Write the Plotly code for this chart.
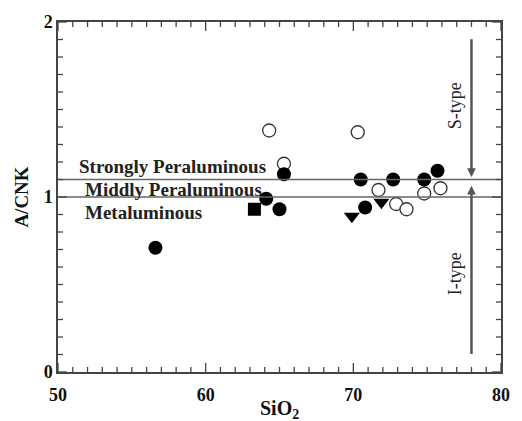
import plotly.graph_objects as go

# Data
filled_circle_x = [56.6, 64.1, 65.0, 65.3, 70.5, 70.8, 72.7, 74.8, 75.7]
filled_circle_y = [0.71, 0.99, 0.93, 1.13, 1.10, 0.94, 1.10, 1.10, 1.15]
open_circle_x = [64.3, 65.3, 70.3, 71.7, 72.9, 73.6, 74.8, 75.9]
open_circle_y = [1.38, 1.19, 1.37, 1.04, 0.96, 0.93, 1.02, 1.05]
square_x = [63.3]
square_y = [0.93]
triangle_x = [69.9, 71.9]
triangle_y = [0.89, 0.97]

x_major = [50, 60, 70, 80]
y_major = [0, 1, 2]
x_minor = list(range(50, 81))
y_minor = [i / 10 for i in range(0, 21)]

boundaries = [1.0, 1.1]

FONT = "Liberation Serif"
TICK_COLOR = "#444444"
fig = go.Figure()

for yv in boundaries:
    fig.add_shape(type="line", x0=50, x1=80, y0=yv, y1=yv, xref="x", yref="y",
                  line=dict(color="#666666", width=1.5))

# inside tick marks on all four sides, positioned through the axis scales
for v in x_minor:
    ln = 9 if v in x_major else 5
    fig.add_shape(type="line", xref="x", yref="y", x0=v, x1=v, ysizemode="pixel",
                  yanchor=0, y0=0, y1=ln, line=dict(color=TICK_COLOR, width=1.3))
    fig.add_shape(type="line", xref="x", yref="y", x0=v, x1=v, ysizemode="pixel",
                  yanchor=2, y0=0, y1=-ln, line=dict(color=TICK_COLOR, width=1.3))
for v in y_minor:
    ln = 9 if abs(v - round(v)) < 1e-9 else 5
    fig.add_shape(type="line", xref="x", yref="y", y0=v, y1=v, xsizemode="pixel",
                  xanchor=50, x0=0, x1=ln, line=dict(color=TICK_COLOR, width=1.3))
    fig.add_shape(type="line", xref="x", yref="y", y0=v, y1=v, xsizemode="pixel",
                  xanchor=80, x0=0, x1=-ln, line=dict(color=TICK_COLOR, width=1.3))

fig.add_trace(go.Scatter(x=open_circle_x, y=open_circle_y, mode="markers",
                         marker=dict(symbol="circle", size=13, color="white",
                                     line=dict(color="#333333", width=1.3))))
fig.add_trace(go.Scatter(x=filled_circle_x, y=filled_circle_y, mode="markers",
                         marker=dict(symbol="circle", size=14, color="black",
                                     line=dict(width=0))))
fig.add_trace(go.Scatter(x=square_x, y=square_y, mode="markers",
                         marker=dict(symbol="square", size=13, color="black",
                                     line=dict(width=0))))
fig.add_trace(go.Scatter(x=triangle_x, y=triangle_y, mode="markers",
                         marker=dict(symbol="triangle-down", size=14, color="black",
                                     line=dict(width=0))))

# S-type / I-type arrows
fig.add_annotation(x=78, y=1.115, ax=78, ay=1.91, xref="x", yref="y", axref="x", ayref="y",
                   showarrow=True, arrowhead=2, arrowsize=0.7, arrowwidth=2.5,
                   arrowcolor="#555555", text="")
fig.add_annotation(x=78, y=1.065, ax=78, ay=0.095, xref="x", yref="y", axref="x", ayref="y",
                   showarrow=True, arrowhead=2, arrowsize=0.7, arrowwidth=2.5,
                   arrowcolor="#555555", text="")
fig.add_annotation(x=76.9, y=1.52, text="S-type", textangle=-90, showarrow=False,
                   font=dict(family=FONT, size=18, color="#222222"))
fig.add_annotation(x=76.9, y=0.56, text="I-type", textangle=-90, showarrow=False,
                   font=dict(family=FONT, size=18, color="#222222"))

# Field labels
for txt, yv, x0 in [("Strongly Peraluminous", 1.175, 51.3),
                    ("Middly Peraluminous", 1.045, 51.7),
                    ("Metaluminous", 0.91, 51.7)]:
    fig.add_annotation(x=x0, y=yv, text=txt, showarrow=False,
                       xanchor="left",
                       font=dict(family=FONT, size=19, color="#222222", weight="bold"))

# x-axis title placed as text under the tick labels
fig.add_annotation(x=0.5, y=-0.066, xref="paper", yref="paper", yanchor="top",
                   text="SiO<sub>2</sub>", showarrow=False,
                   font=dict(family=FONT, size=20, color="#111111", weight="bold"))

tickfont = dict(family=FONT, size=18, color="#111111", weight="bold")
axis_common = dict(showline=True, linecolor="#444444", linewidth=1.5, mirror=True,
                   showgrid=False, zeroline=False, ticks="", tickmode="array",
                   tickfont=tickfont)

fig.update_xaxes(range=[50, 80], tickvals=x_major, ticklabelstandoff=6, **axis_common)
fig.update_yaxes(range=[0, 2], tickvals=y_major,
                 title=dict(text="A/CNK", standoff=10,
                            font=dict(family=FONT, size=19, color="#111111", weight="bold")),
                 **axis_common)

fig.update_layout(width=522, height=421, showlegend=False,
                  margin=dict(l=58, r=14, t=16, b=49),
                  plot_bgcolor="white", paper_bgcolor="white")

fig.write_html("out.html", config={"displayModeBar": False},
               post_script="document.body.style.margin='0';document.body.style.overflow='hidden';")
